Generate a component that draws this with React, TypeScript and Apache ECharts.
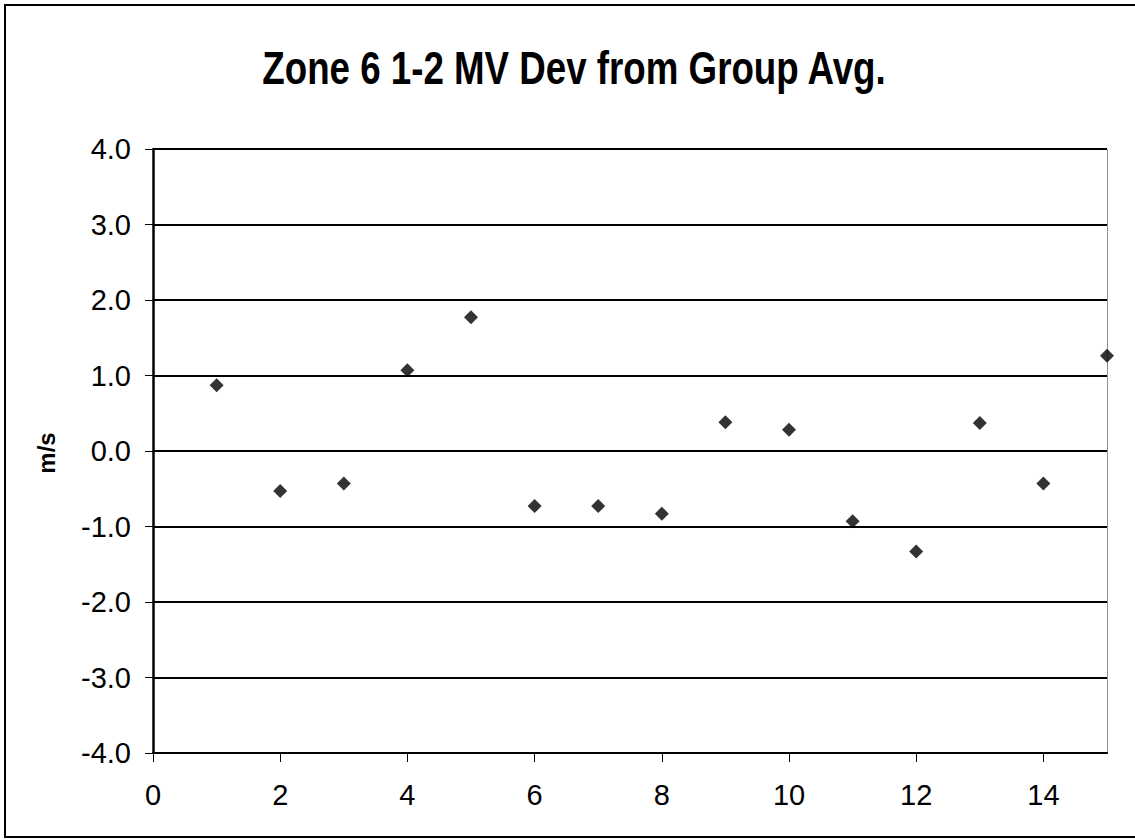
import React, { useEffect, useRef } from "react";
import * as echarts from "echarts";

const xValues = [1, 2, 3, 4, 5, 6, 7, 8, 9, 10, 11, 12, 13, 14, 15];
const devValues = [0.87, -0.53, -0.43, 1.07, 1.77, -0.73, -0.73, -0.83, 0.38, 0.28, -0.93, -1.33, 0.37, -0.43, 1.26];
const titleText = "Zone 6 1-2 MV Dev from Group Avg.";
const yAxisTitle = "m/s";

export default function App() {
  const ref = useRef<HTMLDivElement>(null);
  useEffect(() => {
    if (!ref.current) return;
    const chart = echarts.init(ref.current, null, { renderer: "svg" });
    const font = "'Liberation Sans', Arial, sans-serif";
    chart.setOption({
      animation: false,
      backgroundColor: "#ffffff",
      grid: { left: 153, right: 28, top: 149, bottom: 87, show: false },
      xAxis: {
        type: "value",
        min: 0,
        max: 15,
        interval: 2,
        axisLine: { show: true, onZero: false, lineStyle: { color: "#000", width: 2 } },
        axisTick: { show: true, length: 9, lineStyle: { color: "#000", width: 1 } },
        axisLabel: { color: "#000", fontSize: 29, fontFamily: font, margin: 27, showMaxLabel: false },
        splitLine: { show: false },
      },
      yAxis: [
        {
          type: "value",
          min: -4,
          max: 4,
          interval: 1,
          axisLine: { show: true, onZero: false, lineStyle: { color: "#000", width: 2.5 } },
          axisTick: { show: true, length: 8, lineStyle: { color: "#000", width: 1 } },
          axisLabel: {
            color: "#000",
            fontSize: 29,
            fontFamily: font,
            margin: 22,
            formatter: (v: number) => v.toFixed(1),
          },
          splitLine: { show: true, lineStyle: { color: "#000", width: 2 } },
        },
        {
          type: "value",
          position: "right",
          min: -4,
          max: 4,
          interval: 1,
          axisLine: { show: true, onZero: false, lineStyle: { color: "#777", width: 1, type: "dotted" } },
          axisTick: { show: false },
          axisLabel: { show: false },
          splitLine: { show: false },
        },
      ],
      series: [
        {
          type: "scatter",
          yAxisIndex: 0,
          symbol: "diamond",
          symbolSize: 14,
          itemStyle: { color: "#000" },
          data: xValues.map((x, i) => [x, devValues[i]]),
        },
      ],
      graphic: [
        {
          type: "rect",
          shape: { x: 5, y: 5, width: 1140, height: 832 },
          style: { fill: "none", stroke: "#000", lineWidth: 2 },
          silent: true,
        },
        {
          type: "text",
          x: 574,
          y: 68,
          scaleY: 1.3,
          scaleX: 1.02,
          style: {
            text: titleText,
            fill: "#000",
            font: `bold 36px ${font}`,
            align: "center",
            verticalAlign: "middle",
          },
        },
        {
          type: "text",
          x: 46,
          y: 453,
          rotation: Math.PI / 2,
          style: {
            text: yAxisTitle,
            fill: "#000",
            font: `bold 24px ${font}`,
            align: "center",
            verticalAlign: "middle",
          },
        },
      ],
    });
    return () => chart.dispose();
  }, []);
  return <div ref={ref} style={{ width: 1135, height: 840, position: "absolute", left: 0, top: 0 }} />;
}
